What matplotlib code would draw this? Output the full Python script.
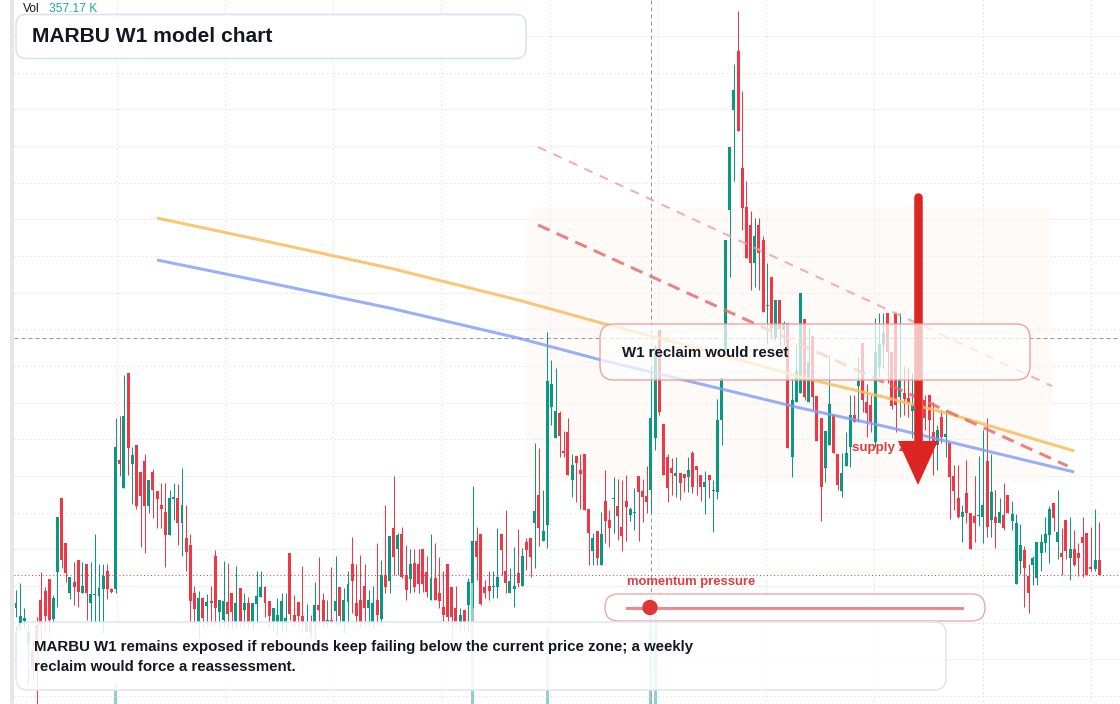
import matplotlib
matplotlib.use("Agg")
import matplotlib.pyplot as plt
from matplotlib.patches import FancyBboxPatch, Polygon, Rectangle, Circle
from matplotlib.lines import Line2D

# ---------------- data ----------------
opens = [
    0.96, 0.81, 0.83, 0.61, 0.54, 0.79, 1.04, 1.13, 1.25, 0.85,
    1.32, 2.06, 1.61, 1.11, 1.22, 1.44, 1.11, 1.40, 1.01, 1.09,
    1.08, 1.15, 1.33, 1.15, 1.15, 2.44, 2.16, 3.31, 2.40, 2.59,
    2.32, 2.43, 1.98, 2.32, 2.13, 1.99, 1.92, 1.69, 2.05, 2.06,
    1.81, 1.66, 1.59, 1.11, 0.82, 1.06, 0.98, 1.03, 1.48, 0.92,
    0.84, 1.02, 1.11, 0.82, 1.16, 0.94, 1.01, 0.82, 1.00, 1.07,
    1.17, 1.03, 0.82, 0.82, 0.82, 0.82, 1.51, 0.89, 1.02, 0.88,
    0.72, 0.82, 0.82, 0.99, 1.04, 0.82, 0.84, 0.93, 1.17, 0.82,
    1.02, 1.40, 1.01, 1.04, 1.18, 0.96, 0.82, 1.04, 0.85, 1.29,
    1.23, 1.76, 1.55, 1.70, 1.29, 1.25, 1.41, 1.40, 1.55, 1.32,
    1.04, 1.26, 1.11, 0.97, 1.40, 1.17, 0.96, 0.82, 0.94, 0.99,
    1.21, 1.63, 1.70, 1.17, 1.18, 1.17, 1.17, 1.70, 1.33, 1.11,
    1.15, 1.31, 1.18, 1.62, 1.66, 1.81, 2.09, 1.63, 1.79, 2.97,
    2.66, 2.91, 2.53, 2.72, 2.24, 2.48, 2.34, 2.50, 1.95, 1.53,
    1.73, 1.39, 2.03, 1.84, 2.05, 1.98, 1.77, 2.03, 1.89, 1.91,
    2.28, 2.13, 2.08, 2.14, 2.66, 3.74, 2.80, 2.47, 2.36, 2.28,
    2.31, 2.30, 2.27, 2.51, 2.38, 2.29, 2.17, 2.29, 2.13, 2.12,
    2.84, 3.54, 4.94, 5.94, 6.53, 5.36, 4.97, 4.79, 4.41, 4.79,
    4.64, 3.98, 4.27, 3.66, 4.04, 3.74, 3.81, 2.47, 3.02, 3.11,
    3.85, 3.02, 3.68, 3.08, 2.86, 2.36, 2.59, 2.89, 2.50, 2.13,
    2.38, 2.57, 2.89, 3.18, 3.61, 3.02, 2.99, 2.62, 3.37, 3.59,
    3.91, 3.52, 3.91, 3.07, 3.11, 3.06, 2.93, 3.04, 2.84, 3.04,
    3.09, 2.72, 2.59, 2.87, 2.67, 2.61, 2.28, 2.06, 1.87, 2.11,
    1.91, 1.88, 1.88, 1.87, 2.43, 1.84, 1.87, 1.81, 1.89, 2.09,
    1.83, 1.20, 1.43, 1.54, 1.28, 1.39, 1.26, 1.51, 1.61, 1.69,
    2.01, 1.62, 1.51, 1.84, 1.46, 1.55, 1.51, 1.67, 1.71, 1.37,
    1.35, 1.44,
]
highs = [
    1.14, 1.21, 0.96, 0.81, 0.64, 0.87, 1.32, 1.17, 1.25, 1.09,
    1.87, 2.06, 1.61, 1.27, 1.42, 1.44, 1.42, 1.40, 1.42, 1.70,
    1.40, 1.40, 1.40, 1.16, 2.86, 2.88, 3.29, 3.31, 2.57, 2.59,
    2.32, 2.50, 2.24, 2.35, 2.13, 2.21, 2.21, 2.14, 2.21, 2.20,
    2.36, 1.99, 1.70, 1.18, 1.13, 1.07, 1.10, 1.18, 1.54, 1.04,
    1.43, 1.41, 1.11, 1.38, 1.16, 1.11, 1.07, 1.01, 1.33, 1.33,
    1.18, 1.03, 0.96, 1.06, 1.11, 1.11, 1.51, 1.09, 1.02, 1.38,
    1.00, 0.89, 1.22, 1.47, 1.11, 1.04, 1.37, 1.48, 1.17, 1.16,
    1.33, 1.67, 1.40, 1.49, 1.40, 1.14, 1.18, 1.61, 1.44, 1.99,
    1.68, 2.28, 1.71, 1.77, 1.59, 1.55, 1.55, 1.55, 1.55, 1.48,
    1.70, 1.61, 1.47, 1.33, 1.40, 1.17, 1.18, 0.96, 0.94, 1.26,
    2.18, 1.77, 1.70, 1.24, 1.33, 1.33, 1.76, 1.70, 1.94, 1.36,
    1.57, 1.75, 1.56, 1.66, 1.66, 2.61, 2.56, 2.14, 3.72, 3.44,
    3.36, 2.93, 2.73, 2.86, 2.50, 2.48, 2.50, 2.50, 1.95, 1.71,
    1.73, 1.92, 2.34, 1.94, 2.27, 2.25, 2.24, 2.29, 1.97, 2.16,
    2.28, 2.25, 2.38, 3.37, 3.59, 3.74, 2.80, 2.50, 2.46, 2.47,
    2.31, 2.30, 2.47, 2.53, 2.38, 2.29, 2.33, 2.29, 2.24, 3.05,
    3.26, 4.64, 5.57, 6.40, 6.93, 6.13, 5.23, 4.93, 4.86, 4.86,
    4.68, 4.41, 4.27, 4.04, 4.04, 3.83, 3.81, 3.26, 3.60, 4.11,
    3.85, 3.77, 3.68, 3.08, 2.86, 2.73, 3.49, 2.89, 2.50, 2.51,
    2.72, 3.09, 3.09, 3.47, 3.61, 3.20, 3.09, 3.86, 3.91, 3.91,
    3.91, 3.52, 3.91, 3.91, 3.38, 3.37, 3.31, 3.14, 3.04, 3.09,
    3.09, 3.02, 2.79, 2.94, 2.94, 2.61, 2.39, 2.39, 1.99, 2.44,
    1.91, 2.28, 2.48, 2.74, 2.86, 2.50, 2.14, 2.06, 2.21, 2.09,
    2.03, 1.90, 1.80, 1.58, 1.40, 1.48, 1.62, 1.70, 1.87, 1.98,
    2.01, 2.14, 1.76, 1.84, 1.87, 1.74, 1.61, 1.87, 1.71, 1.77,
    1.95, 1.82,
]
lows = [
    0.87, 0.74, 0.76, 0.21, 0.26, -0.06, 0.64, 0.74, 0.72, 0.81,
    0.97, 1.36, 1.22, 1.05, 0.99, 0.97, 1.11, 0.84, 0.82, 0.82,
    0.82, 0.71, 1.05, 1.11, 1.11, 2.28, 2.16, 2.29, 2.00, 1.95,
    1.57, 1.51, 1.91, 1.86, 1.76, 1.76, 1.37, 1.69, 1.84, 1.59,
    1.48, 1.33, 0.82, 0.79, 0.66, 0.77, 0.79, 0.79, 0.79, 0.76,
    0.77, 0.76, 0.74, 0.76, 0.77, 0.79, 0.76, 0.74, 0.79, 1.07,
    0.87, 0.76, 0.74, 0.69, 0.72, 0.72, 0.84, 0.77, 0.77, 0.72,
    0.72, 0.66, 0.64, 0.79, 0.77, 0.77, 0.79, 0.79, 0.79, 0.71,
    0.79, 0.91, 0.79, 0.77, 0.79, 0.79, 0.76, 0.79, 0.79, 1.11,
    1.11, 1.29, 1.29, 1.26, 1.04, 1.11, 1.12, 1.11, 1.12, 1.07,
    1.04, 1.04, 0.96, 0.79, 0.79, 0.66, 0.79, 0.74, 0.74, 0.72,
    0.96, 1.24, 0.99, 1.06, 1.04, 1.06, 1.06, 1.29, 1.11, 1.11,
    0.97, 1.17, 1.18, 1.34, 1.27, 1.36, 1.58, 1.63, 1.56, 2.79,
    2.66, 2.47, 2.47, 2.29, 2.07, 2.02, 1.95, 1.94, 1.39, 1.39,
    1.39, 1.39, 1.61, 1.57, 1.71, 1.64, 1.53, 1.63, 1.83, 1.74,
    1.63, 1.82, 1.91, 1.91, 2.54, 2.89, 2.29, 2.02, 2.09, 2.07,
    2.04, 2.12, 2.12, 2.11, 2.09, 2.03, 1.90, 2.06, 1.72, 2.05,
    2.59, 3.52, 4.27, 5.23, 5.73, 4.74, 4.46, 4.14, 4.17, 4.14,
    3.92, 3.60, 3.66, 3.64, 3.59, 3.59, 2.56, 2.27, 3.02, 3.11,
    3.04, 3.02, 2.94, 2.63, 1.83, 2.22, 2.59, 2.51, 2.14, 2.07,
    2.38, 2.37, 2.82, 2.82, 2.92, 2.67, 2.72, 2.57, 3.27, 3.36,
    3.21, 2.95, 2.72, 2.87, 2.89, 2.87, 2.66, 2.74, 2.74, 2.74,
    2.49, 2.29, 2.34, 2.61, 2.47, 1.85, 1.94, 1.86, 1.62, 1.81,
    1.55, 1.62, 1.78, 1.61, 1.67, 1.67, 1.56, 1.81, 1.74, 1.91,
    1.74, 1.20, 1.30, 0.97, 0.91, 1.19, 1.19, 1.33, 1.52, 1.41,
    1.73, 1.45, 1.29, 1.45, 1.24, 1.38, 1.28, 1.27, 1.29, 1.33,
    1.33, 1.29,
]
closes = [
    1.01, 0.88, 0.86, 0.72, 0.36, 0.64, 0.79, 0.88, 0.84, 1.06,
    1.87, 1.44, 1.31, 1.27, 1.17, 1.12, 1.18, 1.11, 1.10, 1.10,
    1.16, 1.28, 1.15, 1.12, 2.57, 2.40, 2.88, 2.56, 2.49, 1.98,
    2.08, 1.98, 2.24, 2.14, 2.05, 1.95, 1.69, 2.06, 2.07, 1.81,
    1.99, 1.52, 1.03, 0.95, 1.06, 0.86, 1.02, 1.01, 0.96, 1.04,
    1.03, 0.90, 0.92, 1.01, 0.82, 1.01, 0.82, 1.01, 1.08, 1.17,
    1.01, 0.88, 0.96, 0.89, 1.03, 0.86, 0.90, 0.82, 0.88, 0.82,
    0.82, 0.72, 0.99, 0.94, 0.82, 0.84, 0.81, 1.03, 0.88, 1.04,
    1.20, 1.23, 0.88, 0.82, 0.96, 1.04, 1.01, 0.89, 1.29, 1.17,
    1.68, 1.47, 1.69, 1.27, 1.14, 1.40, 1.17, 1.20, 1.20, 1.12,
    1.26, 1.04, 1.03, 0.89, 0.87, 0.87, 0.82, 0.89, 0.82, 1.22,
    1.63, 1.47, 1.00, 1.11, 1.13, 1.18, 1.27, 1.54, 1.21, 1.23,
    1.18, 1.21, 1.48, 1.54, 1.47, 1.93, 1.76, 1.73, 3.23, 3.20,
    2.93, 2.68, 2.51, 2.29, 2.39, 2.41, 2.30, 1.94, 1.71, 1.66,
    1.46, 1.70, 1.83, 1.76, 2.06, 1.88, 1.68, 1.97, 1.95, 1.92,
    2.12, 2.07, 2.02, 2.86, 3.56, 2.92, 2.29, 2.16, 2.31, 2.31,
    2.21, 2.26, 2.34, 2.17, 2.34, 2.17, 2.22, 2.24, 2.14, 2.84,
    3.26, 4.64, 5.57, 6.14, 5.73, 4.96, 4.46, 4.41, 4.68, 4.51,
    3.92, 3.99, 3.76, 4.04, 3.75, 3.81, 2.56, 3.04, 3.33, 4.11,
    3.07, 3.42, 3.07, 2.63, 2.17, 2.73, 3.00, 2.51, 2.19, 2.31,
    2.51, 2.89, 2.82, 3.23, 3.04, 2.91, 2.82, 3.52, 3.60, 3.71,
    3.52, 2.98, 2.99, 3.24, 3.05, 3.01, 2.99, 2.89, 2.94, 2.86,
    2.84, 2.57, 2.74, 2.67, 2.70, 2.27, 2.13, 1.87, 1.92, 1.91,
    1.55, 1.81, 1.89, 1.99, 1.77, 2.12, 1.81, 1.92, 1.76, 1.91,
    1.90, 1.81, 1.59, 1.36, 1.11, 1.46, 1.62, 1.62, 1.70, 1.95,
    1.86, 1.72, 1.47, 1.53, 1.55, 1.39, 1.46, 1.61, 1.29, 1.35,
    1.44, 1.29,
]

# volume bars (thousands) of the sessions whose bars reach into view
vol_index = [24, 110, 128, 153, 154]
vol_k = [190, 442, 330, 367, 367]
last_volume_label = "357.17 K"

# moving-average style lines (bar index, price)
ma_slow_x = [34, 60, 90, 121, 141, 165, 189, 210, 225, 255]
ma_slow_y = [4.86, 4.63, 4.36, 4.04, 3.81, 3.55, 3.27, 3.06, 2.90, 2.53]
ma_fast_x = [34, 60, 90, 121, 141, 165, 189, 210, 225, 255]
ma_fast_y = [4.44, 4.22, 3.96, 3.66, 3.44, 3.20, 2.96, 2.77, 2.62, 2.32]

# descending trend lines (bar index, price)
trend_main = ([125.8, 253.4], [4.79, 2.38])
trend_upper = ([125.8, 249.6], [5.57, 3.18])

crosshair_bar = 153
crosshair_price = 3.66

title = "MARBU W1 model chart"
note_lines = ["MARBU W1 remains exposed if rebounds keep failing below the current price zone; a weekly",
              "reclaim would force a reassessment."]
reclaim_text = "W1 reclaim would reset"
zone_text = "supply zone"
momentum_text = "momentum pressure"

# ---------------- figure ----------------
W, H = 1120, 704
UP, DOWN = "#089981", "#f23645"
DARK = "#131722"
FONT = ["Liberation Sans", "DejaVu Sans"]
plt.rcParams["font.family"] = FONT

fig = plt.figure(figsize=(W / 100, H / 100), dpi=100)
fig.patch.set_facecolor("white")

# volume axes (behind)
vax = fig.add_axes([0, 0, 1, 1], zorder=0)
vax.set_xlim(-3.855, 266.02)
vax.set_ylim(140, 1900)
vax.axis("off")

ax = fig.add_axes([0, 0, 1, 1], zorder=1)
ax.patch.set_alpha(0)
ax.set_xlim(-3.855, 266.02)
ax.set_ylim(0, 7.04)
ax.axis("off")

# pixel overlay helper axes (for transform only)
ov = fig.add_axes([0, 0, 1, 1], zorder=-1)
ov.set_xlim(0, W)
ov.set_ylim(H, 0)
ov.axis("off")
P = ov.transData

PX = 0.72  # points per pixel

# left border strip
ax.add_patch(Rectangle((10, 0), 3.5, H, transform=P, color="#e6e6e6", zorder=0.5, lw=0))

# grid
grid_kw = dict(color="#d4d4d4", lw=1 * PX, ls=(0, (1, 3)), zorder=0.6)
for k in range(19):
    yp = 36 + 36.67 * k
    ax.add_line(Line2D([14, W], [yp, yp], transform=P, **grid_kw))
for k in range(-1, 10):
    xp = 116.7 + 108.25 * k
    if xp > 14:
        ax.add_line(Line2D([xp, xp], [0, H], transform=P, **grid_kw))

# volume bars
for i, v in zip(vol_index, vol_k):
    vax.add_patch(Rectangle((i - 0.36, 0), 0.72, v, color=UP, alpha=0.45, lw=0))

# supply zone shading
ax.add_patch(FancyBboxPatch((527, 207), 525, 275, boxstyle="round,pad=0,rounding_size=14",
                            transform=P, fc=(0.99, 0.94, 0.90, 0.3), ec="none", zorder=0.7))

# crosshair
ax.axhline(crosshair_price, color="#9598a1", lw=1 * PX, ls=(0, (4, 3)), zorder=0.8, xmin=14 / W)
ax.axvline(crosshair_bar, color="#9598a1", lw=1 * PX, ls=(0, (4, 3)), zorder=0.8)

# candles
bw = 0.72
for i, (o, h, l, c) in enumerate(zip(opens, highs, lows, closes)):
    col = UP if c >= o else DOWN
    ax.vlines(i, l, h, color=col, lw=1 * PX, zorder=2)
    lo, hi = min(o, c), max(o, c)
    ax.add_patch(Rectangle((i - bw / 2, lo), bw, max(hi - lo, 0.012), color=col, lw=0, zorder=2.1))

# last price line
ax.axhline(closes[-1], color=DOWN, lw=1 * PX, ls=(0, (1, 2.5)), zorder=2.2, xmin=14 / W)

# moving averages
ax.plot(ma_slow_x, ma_slow_y, color="#f9bd5c", lw=3 * PX, alpha=0.85, zorder=3, solid_capstyle="butt")
ax.plot(ma_fast_x, ma_fast_y, color="#7f9cf5", lw=3 * PX, alpha=0.8, zorder=3, solid_capstyle="butt")

# trend lines
ax.plot(*trend_main, color="#e66d6d", lw=3 * PX, alpha=0.85, ls=(0, (4.2, 2.6)), zorder=3.1)
ax.plot(*trend_upper, color="#f0a0a0", lw=2 * PX, alpha=0.85, ls=(0, (4.5, 4.0)), zorder=3.1)

# supply zone label
ax.text(852, 448, zone_text, transform=P, color="#e23c3c", fontsize=13.4 * PX, fontweight="bold",
        va="center", ha="left", zorder=3.5)

# big arrow
ax.add_line(Line2D([918, 918], [197, 445], transform=P, color="#dc2626", lw=8.5 * PX,
                   solid_capstyle="round", zorder=4))
ax.add_patch(Polygon([(898, 441), (938, 441), (918, 485)], closed=True, transform=P,
                     color="#dc2626", lw=0, zorder=4))

# reclaim box
ax.add_patch(FancyBboxPatch((600, 324), 430, 56, boxstyle="round,pad=0,rounding_size=14", transform=P,
                            fc=(1, 1, 1, 0.72), ec="#ef9a9a", lw=1.3 * PX, zorder=5))
ax.text(622, 353, reclaim_text, transform=P, color=DARK, fontsize=15 * PX, fontweight="bold",
        va="center", ha="left", zorder=5.2)

# momentum slider
ax.text(627, 582, momentum_text, transform=P, color="#e23c3c", fontsize=13 * PX, fontweight="bold",
        va="center", ha="left", zorder=5.2)
ax.add_patch(FancyBboxPatch((605, 594), 380, 27, boxstyle="round,pad=0,rounding_size=13.5", transform=P,
                            fc=(1, 1, 1, 0.8), ec="#ef9a9a", lw=1.2 * PX, zorder=5))
ax.add_line(Line2D([627, 962], [607.5, 607.5], transform=P, color="#ee8a8a", lw=3 * PX, zorder=5.1))
ax.add_patch(Circle((650, 607.5), 7, transform=P, color="#e03535", zorder=5.2))

# bottom note box
ax.add_patch(FancyBboxPatch((16, 622), 930, 68, boxstyle="round,pad=0,rounding_size=12", transform=P,
                            fc=(1, 1, 1, 0.86), ec="#dbe6f7", lw=1.5 * PX, zorder=6))
ax.text(34, 647, note_lines[0], transform=P, color=DARK, fontsize=15 * PX, fontweight="bold",
        va="center", ha="left", zorder=6.1)
ax.text(34, 667, note_lines[1], transform=P, color=DARK, fontsize=15 * PX, fontweight="bold",
        va="center", ha="left", zorder=6.1)

# title box
ax.add_patch(FancyBboxPatch((16, 14.5), 510, 44, boxstyle="round,pad=0,rounding_size=10", transform=P,
                            fc="white", ec="#d3e2f6", lw=1.5 * PX, zorder=6))
ax.text(32, 36.5, title, transform=P, color=DARK, fontsize=21 * PX, fontweight="bold",
        va="center", ha="left", zorder=6.1)

# volume legend
ax.text(23, 8.5, "Vol", transform=P, color=DARK, fontsize=12 * PX, va="center", ha="left", zorder=6.1)
ax.text(49, 8.5, last_volume_label, transform=P, color="#22ab94", fontsize=12 * PX, va="center",
        ha="left", zorder=6.1)

fig.savefig("out.png", dpi=100, facecolor="white")
